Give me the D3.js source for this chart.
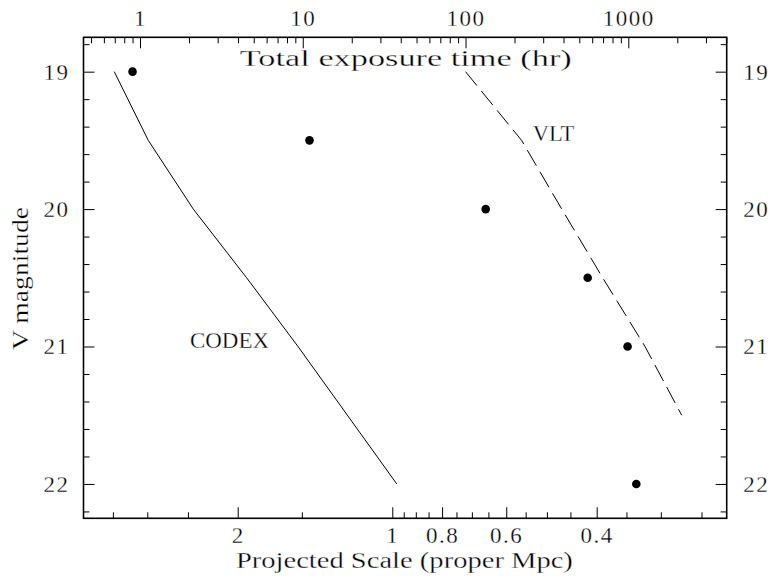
<!DOCTYPE html>
<html>
<head>
<meta charset="utf-8">
<script src="https://cdn.jsdelivr.net/npm/d3@7"></script>
<style>
  html, body { margin: 0; padding: 0; background: #fff; }
  svg { display: block; }
  text {
    font-family: "Liberation Serif", "Times New Roman", serif;
    fill: #000;
    stroke: #fff; stroke-width: 0.3px;   /* slightly lighter glyph strokes */
  }
</style>
</head>
<body>
<svg id="chart" width="772" height="576"></svg>
<script>
// V magnitude of each target and the exposure time (hr) it needs
const dotMag = [19, 19.5, 20, 20.5, 21, 22];
const dotHours = [0.9, 11, 133, 563, 990, 1120];

// CODEX exposure-time curve
const codexMag = [19, 19.5, 20, 20.5, 21, 22];
const codexHours = [0.695, 1.124, 2.126, 4.52, 9.35, 37.8];

// VLT exposure-time curve (dashed)
const vltMag = [19, 19.5, 20, 20.5, 21, 21.5];
const vltHours = [100, 221, 390, 696, 1267, 2129];

// Axis ticks
const hourMajor = [1, 10, 100, 1000];
const hourMinor = [0.5, 0.6, 0.7, 0.8, 0.9, 2, 3, 4, 5, 6, 7, 8, 9,
  20, 30, 40, 50, 60, 70, 80, 90, 200, 300, 400, 500, 600, 700, 800, 900,
  2000, 3000, 4000];
const scaleMajor = [2, 1, 0.8, 0.6, 0.4];
const scaleMinor = [3.5, 3, 2.5, 1.5, 0.95, 0.9, 0.85, 0.75, 0.7, 0.65,
  0.55, 0.5, 0.45, 0.35, 0.3, 0.25];
const magMajor = [19, 20, 21, 22];
const magMinor = [18.8, 19.2, 19.4, 19.6, 19.8, 20.2, 20.4, 20.6, 20.8,
  21.2, 21.4, 21.6, 21.8, 22.2];

const svg = d3.select("#chart");
const m = { left: 83.5, top: 37.3, right: 726.7, bottom: 518.3 };
const w = m.right - m.left, h = m.bottom - m.top;
const FONT = 23;

const xHours = d3.scaleLog().domain([0.4497, 4023]).range([0, w]);
const xScale = d3.scaleLog().domain([3.993, 0.2233]).range([0, w]);
const y = d3.scaleLinear().domain([18.75, 22.25]).range([0, h]);

const g = svg.append("g").attr("transform", `translate(${m.left},${m.top})`);

function styleAxis(sel) {
  sel.select(".domain").remove();
  sel.attr("font-family", null).attr("font-size", null);
  sel.selectAll(".tick line").attr("stroke", "#000").attr("stroke-width", 1);
  sel.selectAll("text").attr("font-size", FONT).attr("fill", "#000")
    .style("letter-spacing", "1.5px");
}

// top axis: exposure time
g.append("g").call(d3.axisTop(xHours).tickValues(hourMinor).tickSize(-6).tickFormat(""))
  .call(styleAxis);
g.append("g").call(d3.axisTop(xHours).tickValues(hourMajor).tickSize(-11)
    .tickPadding(11).tickFormat(d3.format("d")))
  .call(styleAxis);

// bottom axis: projected scale
g.append("g").attr("transform", `translate(0,${h})`)
  .call(d3.axisBottom(xScale).tickValues(scaleMinor).tickSize(-6).tickFormat(""))
  .call(styleAxis);
g.append("g").attr("transform", `translate(0,${h})`)
  .call(d3.axisBottom(xScale).tickValues(scaleMajor).tickSize(-11).tickFormat(d => String(d)))
  .call(styleAxis)
  .call(s => s.selectAll("text").attr("y", 25).attr("dy", null));

// left and right magnitude axes
g.append("g").call(d3.axisLeft(y).tickValues(magMinor).tickSize(-6).tickFormat(""))
  .call(styleAxis);
g.append("g").call(d3.axisLeft(y).tickValues(magMajor).tickSize(-11).tickPadding(14)
    .tickFormat(d3.format("d")))
  .call(styleAxis);
g.append("g").attr("transform", `translate(${w},0)`)
  .call(d3.axisRight(y).tickValues(magMinor).tickSize(-6).tickFormat(""))
  .call(styleAxis);
g.append("g").attr("transform", `translate(${w},0)`)
  .call(d3.axisRight(y).tickValues(magMajor).tickSize(-11).tickFormat(d3.format("d")))
  .call(styleAxis)
  .call(s => s.selectAll("text").attr("text-anchor", "end").attr("x", 42.5));

// frame
g.append("rect").attr("width", w).attr("height", h)
  .attr("fill", "none").attr("stroke", "#000").attr("stroke-width", 1.6);

// curves
const line = d3.line().x(d => xHours(d[0])).y(d => y(d[1]));
g.append("path").datum(d3.zip(codexHours, codexMag)).attr("d", line)
  .attr("fill", "none").attr("stroke", "#000").attr("stroke-width", 1);
g.append("path").datum(d3.zip(vltHours, vltMag)).attr("d", line)
  .attr("fill", "none").attr("stroke", "#000").attr("stroke-width", 1)
  .attr("stroke-dasharray", "18,7");

// targets
g.selectAll("circle.pt").data(d3.zip(dotHours, dotMag)).join("circle")
  .attr("class", "pt")
  .attr("cx", d => xHours(d[0])).attr("cy", d => y(d[1])).attr("r", 4.3)
  .attr("fill", "#000");

// labels
function label(text, x, yy, len, anchor, rotate) {
  const t = svg.append("text").text(text).attr("font-size", FONT)
    .attr("text-anchor", anchor)
    .attr("textLength", len).attr("lengthAdjust", "spacingAndGlyphs");
  if (rotate) t.attr("transform", `translate(${x},${yy}) rotate(-90)`);
  else t.attr("x", x).attr("y", yy);
  return t;
}
label("Total exposure time (hr)", 405.8, 65.7, 332, "middle");
label("Projected Scale (proper Mpc)", 404.4, 568.3, 337, "middle");
label("V magnitude", 28.3, 278.5, 143, "middle", true);
label("CODEX", 190, 347.5, 79, "start");
label("VLT", 532.7, 141, 41.6, "start");
</script>
</body>
</html>
